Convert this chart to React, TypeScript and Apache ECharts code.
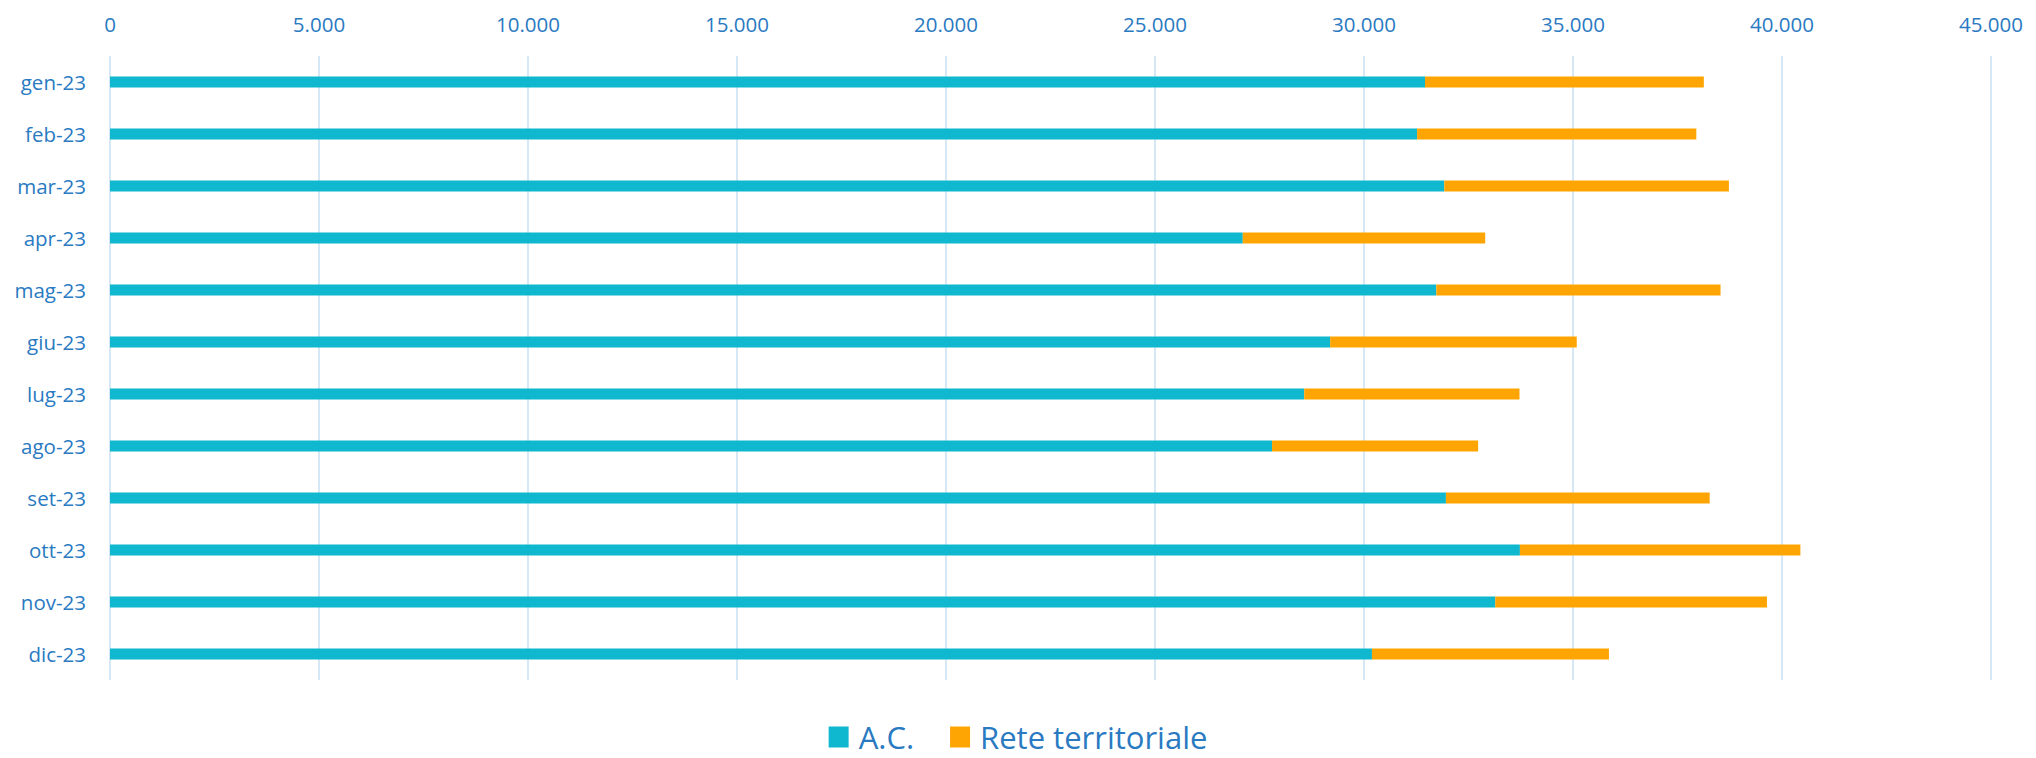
import React, { useEffect, useRef } from "react";
import * as echarts from "echarts";

const categories = ["gen-23", "feb-23", "mar-23", "apr-23", "mag-23", "giu-23", "lug-23", "ago-23", "set-23", "ott-23", "nov-23", "dic-23"];
const acValues = [31460, 31270, 31920, 27100, 31730, 29190, 28570, 27800, 31960, 33730, 33140, 30190];
const reteValues = [6670, 6680, 6810, 5800, 6800, 5900, 5150, 4930, 6310, 6710, 6500, 5670];
const seriesNames = ["A.C.", "Rete territoriale"];

const LABEL = "#2A7AC2";
const FONT = "'Open Sans', sans-serif";

function fmt(v: number): string {
  return String(v).replace(/\B(?=(\d{3})+(?!\d))/g, ".");
}

export default function App() {
  const ref = useRef<HTMLDivElement>(null);
  useEffect(() => {
    if (!ref.current) return;
    const chart = echarts.init(ref.current, undefined, { renderer: "svg" });
    chart.setOption({
      animation: false,
      backgroundColor: "#ffffff",
      textStyle: { fontFamily: FONT },
      grid: { left: 110, right: 45, top: 56, bottom: 78, containLabel: false },
      legend: {
        data: seriesNames,
        top: 721,
        left: "center",
        padding: 0,
        itemWidth: 20,
        itemHeight: 21,
        itemGap: 36,
        icon: "rect",
        textStyle: { color: LABEL, fontSize: 31, lineHeight: 32, fontFamily: FONT, padding: [0, 0, 0, 5] },
      },
      xAxis: {
        type: "value",
        position: "top",
        min: 0,
        max: 45000,
        interval: 5000,
        axisLine: { show: false },
        axisTick: { show: false },
        splitLine: { show: true, lineStyle: { color: "#C9E0F3", width: 1.5 } },
        axisLabel: { color: LABEL, fontSize: 20.5, fontFamily: FONT, margin: 22, formatter: (v: number) => fmt(v) },
      },
      yAxis: {
        type: "category",
        data: categories,
        inverse: true,
        axisLine: { show: false },
        axisTick: { show: false },
        axisLabel: { color: LABEL, fontSize: 20.5, fontFamily: FONT, margin: 24 },
      },
      series: [
        { name: seriesNames[0], type: "bar", stack: "total", data: acValues, barWidth: 11, itemStyle: { color: "#0FB8CE" } },
        { name: seriesNames[1], type: "bar", stack: "total", data: reteValues, barWidth: 11, itemStyle: { color: "#FFA503" } },
      ],
    });
    return () => chart.dispose();
  }, []);
  return <div ref={ref} style={{ position: "absolute", left: 0, top: 0, width: 2036, height: 758 }} />;
}
